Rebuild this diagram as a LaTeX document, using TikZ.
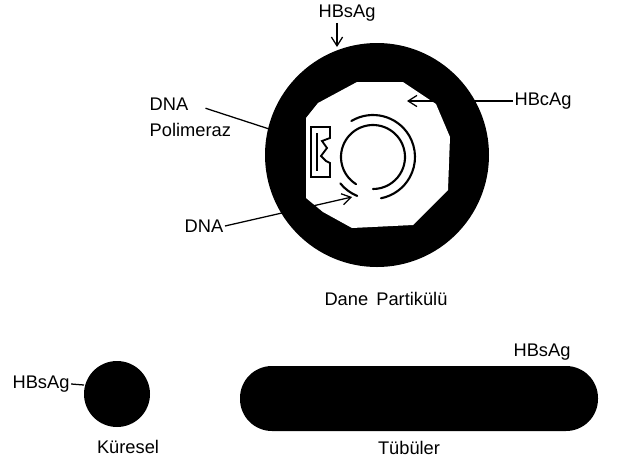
\documentclass[tikz,border=0pt]{standalone}
\usepackage{fontspec}
\setmainfont{Liberation Sans}
\usepackage{tikz}
\usetikzlibrary{arrows.meta, positioning}
\definecolor{inkblack}{RGB}{0,0,0}
\tikzstyle{lbl} = [inner sep=1pt, font=\fontsize{13}{16}\selectfont, text=inkblack]
\tikzstyle{ptr} = [line width=0.9pt, draw=inkblack, -{Straight Barb[length=2.2mm, width=2.8mm, line width=0.9pt]}]
\tikzstyle{tick} = [line width=0.9pt, draw=inkblack]
\tikzstyle{strand} = [line width=1.5pt, draw=inkblack, line cap=round]
\tikzstyle{shell} = [fill=inkblack]

\begin{document}
\begin{tikzpicture}[x=0.025cm, y=-0.025cm]
\useasboundingbox (0,0) rectangle (620,463);

\fill[shell] (377,155) circle[radius=112];
\fill[white] (357,82) -- (403,82) -- (436,104) -- (450,137) -- (448,190) -- (413,225)
  -- (352,228) -- (323,212) -- (306,198) -- (306,118) -- (318,103) -- cycle;

\draw[strand] (373,157) ++(-238:32) arc[start angle=-238, end angle=90, radius=32];
\draw[strand] (373,157) ++(-121:42) arc[start angle=-121, end angle=79, radius=42];
\draw[strand] (373,157) ++(112:42) arc[start angle=112, end angle=141, radius=42];

\draw[line width=1.3pt, line join=miter, fill=white] (311,127) -- (330,127) -- (330,138) -- (322,141)
  -- (327,148) -- (321,156) -- (326,161) -- (330,163) -- (330,177) -- (311,177) -- cycle;
\draw[line width=1.3pt] (317,133) -- (317,171);

\coordinate (sagtip) at (337,47);
\coordinate (hcatip) at (407,101);
\coordinate (poltip) at (306,141);
\coordinate (dnatip) at (352,197);
\coordinate (kurtip) at (84,385);

\node[lbl] (sagtop) at (347,13) {HBsAg};
\node[lbl] (hca) at (543,101) {HBcAg};
\node[lbl] (polone) at (169,104) {DNA};
\node[lbl, anchor=west] (poltwo) at (polone.west |- 0,130) {Polimeraz};
\node[lbl] (dna) at (204,226) {DNA};
\node[lbl] (dane) at (386,299) {Dane\, Partikülü};

\draw[ptr] (sagtip |- sagtop.south) -- (sagtip);
\draw[ptr] (hca.west) -- (hcatip);
\draw[ptr] ([xshift=11pt, yshift=-3pt]polone.east) -- (poltip);
\draw[ptr] (dna.east) -- (dnatip);

\fill[shell] (117,394) circle[radius=33];
\node[lbl] (sagk) at (41,384) {HBsAg};
\node[lbl] (kur) at (128,447) {Küresel};
\draw[tick] (sagk.east) -- (kurtip);

\fill[shell, rounded corners=0.8cm] (240,366) rectangle (598,431);
\node[lbl] (sagt) at (542,352) {HBsAg};
\node[lbl] (tub) at (409,448) {Tübüler};

\end{tikzpicture}
\end{document}
